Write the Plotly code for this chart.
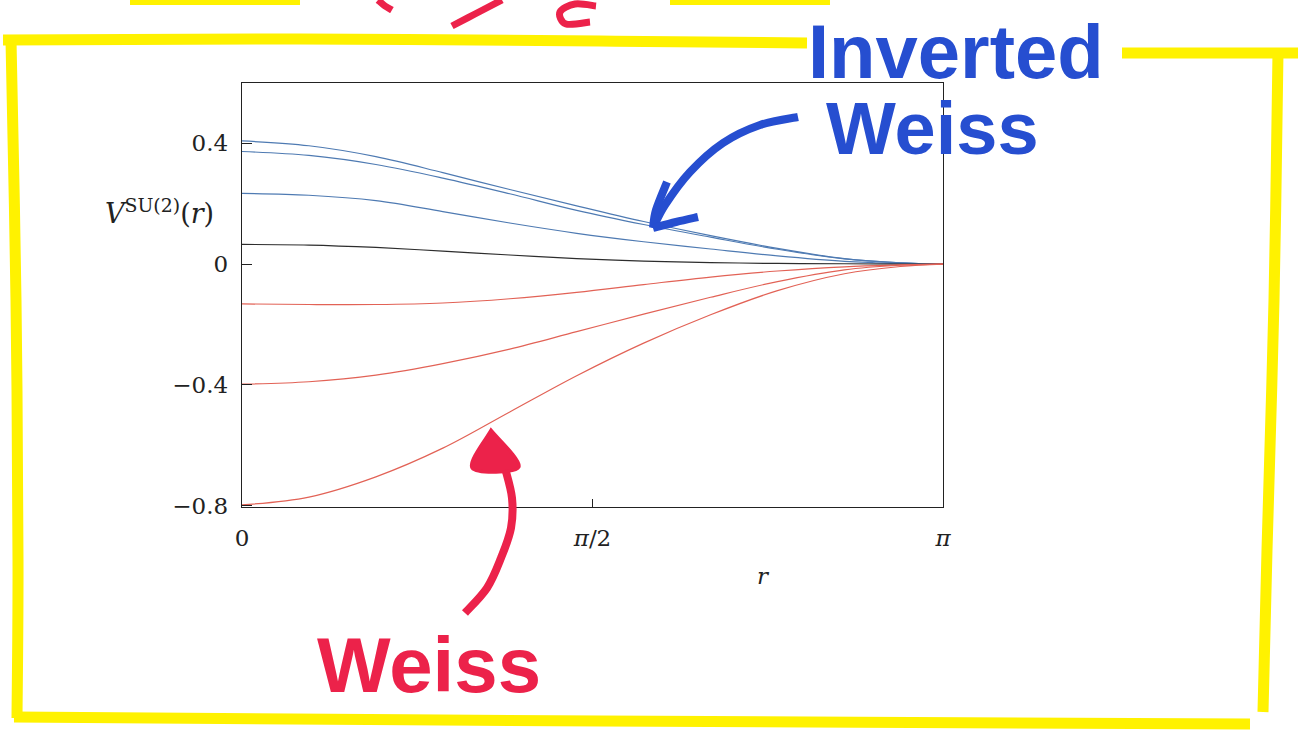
import math
import plotly.graph_objects as go

PI = math.pi

# Sample points along r in [0, pi]
r = [0.0, 0.3, 0.6, 0.9, 1.2, 1.5, 1.8, 2.1, 2.4, 2.7, 2.95, PI]

# Inverted-Weiss potentials (blue)
inv_weiss_1 = [0.408, 0.392, 0.356, 0.303, 0.247, 0.193, 0.141, 0.094, 0.052, 0.018, 0.004, 0.0]
inv_weiss_2 = [0.373, 0.360, 0.330, 0.285, 0.233, 0.178, 0.131, 0.089, 0.049, 0.017, 0.004, 0.0]
inv_weiss_3 = [0.234, 0.228, 0.210, 0.174, 0.136, 0.102, 0.074, 0.050, 0.027, 0.009, 0.002, 0.0]
# Intermediate curve (black)
middle_curve = [0.065, 0.063, 0.055, 0.043, 0.030, 0.018, 0.010, 0.005, 0.002, 0.001, 0.0, 0.0]
# Weiss potentials (red)
weiss_1 = [-0.132, -0.134, -0.134, -0.129, -0.115, -0.094, -0.068, -0.043, -0.023, -0.009, -0.003, 0.0]
weiss_2 = [-0.398, -0.390, -0.368, -0.330, -0.282, -0.224, -0.166, -0.110, -0.058, -0.019, -0.004, 0.0]
weiss_3 = [-0.798, -0.772, -0.705, -0.610, -0.490, -0.370, -0.262, -0.168, -0.088, -0.032, -0.008, 0.0]

x_tick_vals = [0, PI / 2, PI]
x_tick_text = ["0", "<i>π</i>/2", "<i>π</i>"]
y_tick_vals = [0.4, 0.0, -0.4, -0.8]
y_tick_text = ["0.4", "0", "−0.4", "−0.8"]

BLUE = "rgb(78,122,178)"
RED = "rgb(226,98,86)"
BLACK = "rgb(45,45,45)"
MARK_YELLOW = "rgb(255,242,0)"
MARK_BLUE = "rgb(38,78,208)"
MARK_RED = "rgb(236,34,74)"
SERIF = "DejaVu Serif, Liberation Serif, serif"
MARKER_FONT = "Liberation Sans, Arial, sans-serif"

W, H = 1302, 742
L, R, T, B = 242, 943, 83, 507

fig = go.Figure()
series = [
    (inv_weiss_1, BLUE), (inv_weiss_2, BLUE), (inv_weiss_3, BLUE),
    (middle_curve, BLACK),
    (weiss_1, RED), (weiss_2, RED), (weiss_3, RED),
]
for vals, col in series:
    fig.add_trace(go.Scatter(
        x=r, y=vals, mode="lines",
        line=dict(color=col, width=1.2, shape="spline", smoothing=1.0),
        showlegend=False, hoverinfo="skip",
    ))


# Pen strokes drawn over the figure, in page pixels
def px(x):
    return (x - L) / (R - L)


def py(y):
    return (B - y) / (B - T)


def smooth_path(pts, close=False):
    P = [(px(x), py(y)) for x, y in pts]
    d = f"M{P[0][0]:.5f},{P[0][1]:.5f}"
    for i in range(len(P) - 1):
        p0 = P[i - 1] if i > 0 else P[i]
        p1, p2 = P[i], P[i + 1]
        p3 = P[i + 2] if i + 2 < len(P) else P[i + 1]
        c1 = (p1[0] + (p2[0] - p0[0]) / 6, p1[1] + (p2[1] - p0[1]) / 6)
        c2 = (p2[0] - (p3[0] - p1[0]) / 6, p2[1] - (p3[1] - p1[1]) / 6)
        d += f" C{c1[0]:.5f},{c1[1]:.5f} {c2[0]:.5f},{c2[1]:.5f} {p2[0]:.5f},{p2[1]:.5f}"
    if close:
        d += " Z"
    return d


def stroke(pts, color, width, fill=None):
    shape = dict(type="path", path=smooth_path(pts, close=fill is not None),
                 xref="paper", yref="paper", layer="above",
                 line=dict(color=color, width=width))
    if fill is not None:
        shape["fillcolor"] = fill
    return shape


shapes = [
    # highlighter frame
    stroke([(3, 40), (300, 39), (600, 41), (807, 43)], MARK_YELLOW, 11),
    stroke([(1122, 53), (1298, 53)], MARK_YELLOW, 11),
    stroke([(1278, 52), (1274, 300), (1267, 550), (1263, 712)], MARK_YELLOW, 11),
    stroke([(11, 40), (16, 300), (18, 560), (17, 718)], MARK_YELLOW, 11),
    stroke([(14, 717), (600, 721), (1250, 724)], MARK_YELLOW, 11),
    stroke([(130, 1), (300, 1)], MARK_YELLOW, 8),
    stroke([(670, 1), (830, 1)], MARK_YELLOW, 8),
    # red marks along the top edge
    stroke([(378, 0), (385, 6), (392, 10)], MARK_RED, 7),
    stroke([(502, 0), (475, 14), (452, 26)], MARK_RED, 7),
    stroke([(596, 6), (575, 4), (560, 12), (566, 24), (590, 22)], MARK_RED, 7),
    # blue arrow
    stroke([(798, 117), (760, 125), (723, 143), (690, 172), (665, 205), (653, 228)], MARK_BLUE, 8),
    stroke([(667, 182), (656, 210), (653, 228)], MARK_BLUE, 8),
    stroke([(653, 228), (676, 222), (698, 217)], MARK_BLUE, 8),
    # red arrow
    stroke([(465, 613), (487, 588), (501, 558), (511, 528), (512, 498), (505, 468)], MARK_RED, 8),
    stroke([(491, 430), (472, 468), (519, 467), (491, 430)], MARK_RED, 3, fill=MARK_RED),
]

annotations = [
    dict(text="<i>V</i><sup>SU(2)</sup>(<i>r</i>)", x=px(216), y=py(212),
         xref="paper", yref="paper", xanchor="right", yanchor="middle",
         showarrow=False, font=dict(family=SERIF, size=27, color="#222")),
    dict(text="<i>r</i>", x=px(763), y=py(576),
         xref="paper", yref="paper", xanchor="center", yanchor="middle",
         showarrow=False, font=dict(family=SERIF, size=23, color="#222")),
    dict(text="<b>Inverted</b>", x=px(806), y=py(52),
         xref="paper", yref="paper", xanchor="left", yanchor="middle",
         showarrow=False, font=dict(family=MARKER_FONT, size=76, color=MARK_BLUE)),
    dict(text="<b>Weiss</b>", x=px(824), y=py(128),
         xref="paper", yref="paper", xanchor="left", yanchor="middle",
         showarrow=False, font=dict(family=MARKER_FONT, size=74, color=MARK_BLUE)),
    dict(text="<b>Weiss</b>", x=px(315), y=py(665),
         xref="paper", yref="paper", xanchor="left", yanchor="middle",
         showarrow=False, font=dict(family=MARKER_FONT, size=78, color=MARK_RED)),
]

fig.update_layout(
    width=W, height=H,
    margin=dict(l=L, r=W - R, t=T, b=H - B, pad=0),
    paper_bgcolor="white", plot_bgcolor="white",
    shapes=shapes, annotations=annotations,
    xaxis=dict(
        range=[0, PI], showgrid=False, zeroline=False,
        showline=True, mirror=True, linecolor="#222", linewidth=1.4,
        ticks="inside", ticklen=8, tickcolor="#222", tickwidth=1.2,
        tickvals=x_tick_vals, ticktext=x_tick_text,
        tickfont=dict(family=SERIF, size=23, color="#222"),
        ticklabelstandoff=10,
    ),
    yaxis=dict(
        range=[-0.805, 0.6], showgrid=False, zeroline=False,
        showline=True, mirror=True, linecolor="#222", linewidth=1.4,
        ticks="inside", ticklen=10, tickcolor="#222", tickwidth=1.2,
        tickvals=y_tick_vals, ticktext=y_tick_text,
        tickfont=dict(family=SERIF, size=23, color="#222"),
        ticklabelstandoff=8,
    ),
)

fig.write_html("out.html")
